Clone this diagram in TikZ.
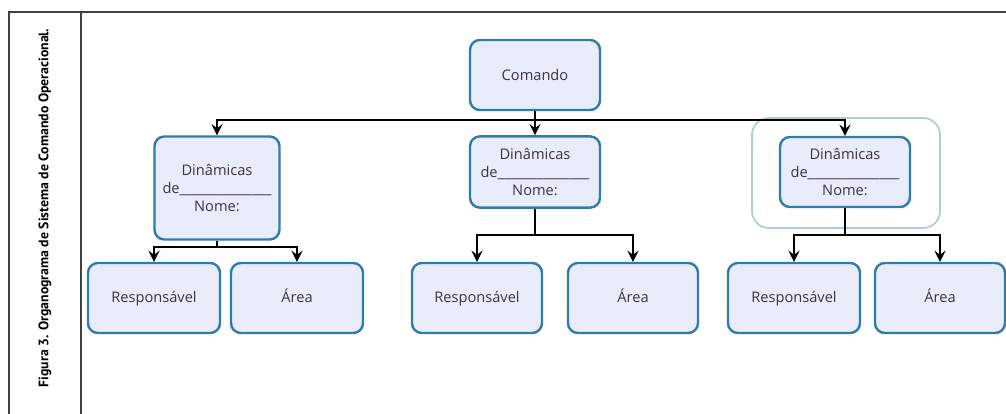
\documentclass[tikz,border=0pt]{standalone}
\usepackage{fontspec}
\setmainfont{Open Sans}
\newfontfamily\captionfont{PT Sans}
\usetikzlibrary{arrows.meta}
\definecolor{boxblue}{HTML}{2F7CA8}
\definecolor{boxfill}{HTML}{E9ECFB}
\definecolor{boxtext}{HTML}{3A3248}
\definecolor{haloblue}{HTML}{A9CCDF}

\begin{document}
\begin{tikzpicture}[x=0.025cm, y=-0.025cm, >={Stealth[length=8pt, width=8pt, inset=3pt]},
    every node/.style={rectangle, rounded corners=7pt, draw=boxblue, line width=1.7pt, fill=boxfill,
        text=boxtext, font=\fontsize{10.4}{13}\selectfont, align=center, inner sep=2pt},
    leaf/.style={minimum width=3.3cm, minimum height=1.75cm, text height=1.6ex, text depth=0.4ex},
    link/.style={black, line width=0.8pt}]
    \useasboundingbox (0,0) rectangle (1006,414);
    % Define frame
    \draw[black!75, line width=0.9pt] (1006,12) -- (9,12) -- (9,414);
    \draw[black!75, line width=0.9pt] (81,12) -- (81,414);
    \node[draw=none, fill=none, rotate=90, text=black, font=\captionfont\bfseries\fontsize{9.8}{11}\selectfont] (cap) at (45,208)
        {Figura 3. Organograma de Sistema de Comando Operacional.};

    % Define vertices
    \node[draw=haloblue, fill=white, line width=1.2pt, rounded corners=12pt, minimum width=4.7cm, minimum height=2.75cm] (halo) at (846,173) {};
    \node[minimum width=3.25cm, minimum height=1.75cm] (cmd) at (535,75) {Comando};
    \node[minimum width=3.125cm, minimum height=2.575cm] (din1) at (217,188) {Dinâmicas\\de\_\_\_\_\_\_\_\_\_\_\_\_\_\_\\Nome:};
    \node[minimum width=3.25cm, minimum height=1.78cm] (din2) at (535,172) {Dinâmicas\\de\_\_\_\_\_\_\_\_\_\_\_\_\_\_\\Nome:};
    \node[minimum width=3.25cm, minimum height=1.75cm] (din3) at (845,172) {Dinâmicas\\de\_\_\_\_\_\_\_\_\_\_\_\_\_\_\\Nome:};
    \node[leaf] (resp1) at (154,298) {Responsável};
    \node[leaf] (area1) at (297,298) {Área};
    \node[leaf, minimum width=3.25cm] (resp2) at (477,298) {Responsável};
    \node[leaf, minimum width=3.25cm] (area2) at (633,298) {Área};
    \node[leaf] (resp3) at (794,298) {Responsável};
    \node[leaf, minimum width=3.25cm] (area3) at (940,298) {Área};

    % Junction points
    \coordinate (j0) at (535,120);
    \coordinate (j1) at (217,247);
    \coordinate (j2) at (535,235);
    \coordinate (j3) at (845,235);

    % Draw edges
    \draw[link] (cmd) -- (j0); % stem of Comando
    \draw[link, ->] (j0) -| (din1); % Comando -> left
    \draw[link, ->] (j0) -- (din2); % Comando -> middle
    \draw[link, ->] (j0) -| (din3); % Comando -> right
    \draw[link] (din1) -- (j1);
    \draw[link, ->] (j1) -| (resp1);
    \draw[link, ->] (j1) -| (area1);
    \draw[link] (din2) -- (j2);
    \draw[link, ->] (j2) -| (resp2);
    \draw[link, ->] (j2) -| (area2);
    \draw[link] (din3) -- (j3);
    \draw[link, ->] (j3) -| (resp3);
    \draw[link, ->] (j3) -| (area3);
\end{tikzpicture}
\end{document}
